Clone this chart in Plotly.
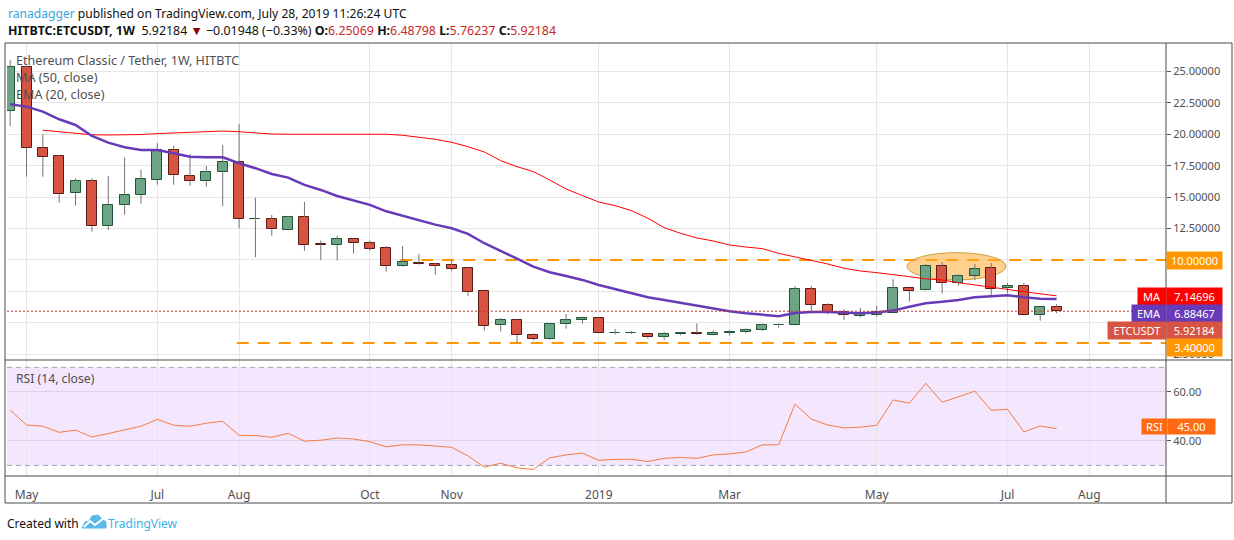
import plotly.graph_objects as go
from plotly.subplots import make_subplots

# weekly bars (monday open), ETC/USDT on HitBTC
dates = [
    "2018-04-30", "2018-05-07", "2018-05-14", "2018-05-21", "2018-05-28",
    "2018-06-04", "2018-06-11", "2018-06-18", "2018-06-25",
    "2018-07-02", "2018-07-09", "2018-07-16", "2018-07-23", "2018-07-30",
    "2018-08-06", "2018-08-13", "2018-08-20", "2018-08-27",
    "2018-09-03", "2018-09-10", "2018-09-17", "2018-09-24",
    "2018-10-01", "2018-10-08", "2018-10-15", "2018-10-22", "2018-10-29",
    "2018-11-05", "2018-11-12", "2018-11-19", "2018-11-26",
    "2018-12-03", "2018-12-10", "2018-12-17", "2018-12-24", "2018-12-31",
    "2019-01-07", "2019-01-14", "2019-01-21", "2019-01-28",
    "2019-02-04", "2019-02-11", "2019-02-18", "2019-02-25",
    "2019-03-04", "2019-03-11", "2019-03-18", "2019-03-25",
    "2019-04-01", "2019-04-08", "2019-04-15", "2019-04-22", "2019-04-29",
    "2019-05-06", "2019-05-13", "2019-05-20", "2019-05-27",
    "2019-06-03", "2019-06-10", "2019-06-17", "2019-06-24",
    "2019-07-01", "2019-07-08", "2019-07-15", "2019-07-22",
]

opens = [21.88, 25.33, 18.89, 18.27, 15.31, 16.28, 12.68, 14.35, 15.15, 16.34,
         18.73, 16.66, 16.26, 16.98, 17.77, 13.22, 13.24, 12.39, 13.40, 11.25,
         11.17, 11.65, 11.33, 10.93, 9.50, 9.74, 9.66, 9.58, 9.34, 7.51,
         4.85, 5.20, 4.01, 3.69, 4.88, 5.23, 5.36, 4.15, 4.17, 4.14,
         3.85, 4.09, 4.19, 4.01, 4.17, 4.25, 4.40, 4.80, 4.80, 7.67,
         6.40, 5.86, 5.55, 5.65, 5.76, 7.75, 7.59, 9.50, 8.15, 8.70,
         9.34, 7.80, 7.91, 5.60, 6.25069]
highs = [25.90, 25.45, 20.02, 18.35, 16.50, 16.50, 16.68, 18.14, 17.16, 19.28,
         19.09, 18.41, 17.48, 19.15, 20.82, 14.96, 13.58, 13.52, 14.61, 11.54,
         11.93, 11.70, 11.54, 11.11, 11.11, 10.48, 9.76, 10.05, 9.42, 7.55,
         5.39, 5.29, 4.17, 4.96, 5.70, 5.49, 5.41, 4.51, 4.35, 4.16,
         4.27, 4.25, 4.96, 4.40, 4.42, 4.56, 4.96, 4.96, 7.93, 7.93,
         6.55, 6.08, 6.18, 6.34, 8.46, 7.80, 9.68, 9.84, 8.86, 9.68,
         9.76, 8.17, 8.17, 6.34, 6.48798]
lows = [20.66, 16.63, 16.63, 14.56, 14.32, 12.25, 12.39, 13.60, 14.48, 15.99,
        15.99, 15.91, 15.83, 14.27, 12.52, 10.21, 11.93, 12.36, 10.72, 10.00,
        9.95, 10.50, 10.74, 9.07, 9.45, 9.62, 8.83, 9.12, 7.14, 4.38,
        4.30, 3.42, 3.58, 3.65, 4.53, 4.93, 4.15, 4.06, 4.10, 3.74,
        3.64, 4.00, 4.03, 3.99, 3.98, 4.15, 4.33, 4.61, 4.78, 5.94,
        5.68, 5.23, 5.44, 5.49, 5.74, 6.68, 7.55, 7.32, 7.96, 8.38,
        7.22, 7.35, 5.58, 5.17, 5.76237]
closes = [25.33, 18.89, 18.22, 15.23, 16.28, 12.68, 14.35, 15.15, 16.42, 18.73,
          16.74, 16.26, 16.98, 17.77, 13.24, 13.28, 12.44, 13.40, 11.17, 11.17,
          11.65, 11.33, 10.90, 9.50, 9.82, 9.66, 9.55, 9.26, 7.48, 4.77,
          5.20, 4.01, 3.69, 4.91, 5.20, 5.39, 4.17, 4.19, 4.20, 3.85,
          4.09, 4.19, 4.09, 4.19, 4.27, 4.40, 4.80, 4.85, 7.67, 6.40,
          5.86, 5.60, 5.70, 5.86, 7.75, 7.56, 9.50, 8.15, 8.70, 9.26,
          7.72, 7.91, 5.60, 6.24, 5.92184]

# indicators
ma50 = [None, None, 20.32, 20.21, 20.08, 19.96, 19.94, 19.94, 19.98, 20.05,
        20.10, 20.15, 20.20, 20.26, 20.20, 20.10, 20.02, 20.00, 20.00, 20.00,
        20.00, 20.00, 20.00, 20.00, 19.92, 19.76, 19.60, 19.36, 19.01, 18.59,
        17.90, 17.42, 17.03, 16.36, 15.65, 15.12, 14.61, 14.32, 13.92, 13.32,
        12.57, 12.12, 11.75, 11.51, 11.19, 11.03, 10.90, 10.53, 10.26, 10.00,
        9.68, 9.34, 9.12, 8.99, 8.86, 8.67, 8.49, 8.41, 8.19, 8.01,
        7.80, 7.61, 7.48, 7.30, 7.14696]
ema20 = [22.39, 22.20, 21.80, 21.19, 20.74, 19.86, 19.33, 18.97, 18.75, 18.75,
         18.49, 18.22, 18.17, 18.17, 17.69, 17.30, 16.84, 16.55, 15.97, 15.57,
         15.09, 14.72, 14.38, 13.87, 13.50, 13.13, 12.81, 12.52, 12.07, 11.33,
         10.74, 10.10, 9.47, 9.02, 8.73, 8.41, 8.01, 7.67, 7.35, 7.03,
         6.82, 6.60, 6.36, 6.13, 5.92, 5.76, 5.65, 5.53, 5.78, 5.86,
         5.86, 5.81, 5.76, 5.81, 5.97, 6.28, 6.55, 6.68, 6.82, 7.03,
         7.14, 7.19, 7.03, 6.92, 6.88467]
rsi14 = [52.6, 46.5, 46.0, 43.5, 44.4, 41.6, 43.0, 44.4, 46.0, 48.8,
         46.4, 46.0, 47.2, 48.0, 42.3, 42.2, 41.5, 43.1, 39.9, 40.3,
         41.2, 40.8, 39.7, 37.6, 38.4, 38.4, 38.0, 37.4, 33.9, 29.3,
         30.9, 29.0, 28.4, 33.1, 34.3, 35.0, 32.1, 32.5, 32.5, 31.6,
         32.9, 33.3, 32.9, 34.3, 34.7, 35.5, 38.4, 38.4, 55.0, 48.9,
         46.5, 45.3, 45.6, 46.4, 56.7, 55.4, 63.5, 55.8, 58.0, 60.3,
         52.5, 52.9, 43.7, 46.1, 45.0]

# drawn levels + the highlighted zone
support, resistance = 3.40, 10.00
support_from, resistance_from = "2018-08-05", "2018-10-14"
zone_x = ["2019-05-19", "2019-06-30 07:00"]
zone_y = [8.41, 10.58]

month_ticks = ["2018-05-07", "2018-07-02", "2018-08-06", "2018-10-01", "2018-11-05",
               "2019-01-07", "2019-03-04", "2019-05-06", "2019-07-01", "2019-08-05"]
month_text = ["May", "Jul", "Aug", "Oct", "Nov", "2019", "Mar", "May", "Jul", "Aug"]
price_ticks = [2.5, 5, 7.5, 10, 12.5, 15, 17.5, 20, 22.5, 25]

UP, DOWN = "#6ba583", "#d75442"
UP_EDGE, DOWN_EDGE = "#225437", "#5b1a13"
WICK = "#737375"
FONT = "Noto Sans"
TXT = "#4f4f4f"

# pixel layout of the tradingview snapshot
W, H = 1234, 540
L, R, T, B = 7, 1166, 43, 476
X_RANGE = ["2018-04-28 15:38", "2019-09-06 20:10"]


def fx(p):
    return (p - L) / (R - L)


def fy(p):
    return (B - p) / (B - T)


fig = make_subplots(rows=2, cols=1, shared_xaxes=True, vertical_spacing=0,
                    row_heights=[317, 116])

# wicks in two pieces so they never run through the body
wx, wy = [], []
for d, o, h, l, c in zip(dates, opens, highs, lows, closes):
    wx += [d, d, None, d, d, None]
    wy += [h, max(o, c), None, min(o, c), l, None]
fig.add_trace(go.Scatter(x=wx, y=wy, mode="lines", line=dict(color=WICK, width=1),
                         hoverinfo="skip"), row=1, col=1)

up = [c >= o for o, c in zip(opens, closes)]
fig.add_trace(go.Bar(
    x=dates,
    y=[abs(c - o) for o, c in zip(opens, closes)],
    base=[min(o, c) for o, c in zip(opens, closes)],
    width=3.7e8,
    marker=dict(color=[UP if u else DOWN for u in up],
                line=dict(color=[UP_EDGE if u else DOWN_EDGE for u in up], width=1)),
), row=1, col=1)

fig.add_trace(go.Scatter(x=dates, y=ma50, mode="lines",
                         line=dict(color="#ff0000", width=1)), row=1, col=1)
fig.add_trace(go.Scatter(x=dates, y=ema20, mode="lines",
                         line=dict(color="#673ab7", width=2.5)), row=1, col=1)
fig.add_trace(go.Scatter(x=dates, y=rsi14, mode="lines",
                         line=dict(color="#f57c40", width=1)), row=2, col=1)

shapes = []
# rsi band and its 30/70 lines
shapes.append(dict(type="rect", xref="paper", yref="y2", x0=0, x1=1, y0=30, y1=70,
                   fillcolor="#f3e6fd", line=dict(width=0), layer="below"))
for lvl in (30, 70):
    shapes.append(dict(type="line", xref="paper", yref="y2", x0=0, x1=1, y0=lvl, y1=lvl,
                       line=dict(color="#a8a3b3", width=1, dash="5px,4px")))
# horizontal levels
shapes.append(dict(type="line", xref="x", yref="y", x0=resistance_from, x1=X_RANGE[1],
                   y0=resistance, y1=resistance,
                   line=dict(color="#ff9800", width=2, dash="12px,9px"), layer="between"))
shapes.append(dict(type="line", xref="x", yref="y", x0=support_from, x1=X_RANGE[1],
                   y0=support, y1=support,
                   line=dict(color="#ff9800", width=2, dash="12px,9px"), layer="between"))
shapes.append(dict(type="line", xref="paper", yref="y", x0=0, x1=1,
                   y0=closes[-1], y1=closes[-1],
                   line=dict(color="#c0392b", width=1, dash="2px,2px")))
shapes.append(dict(type="circle", xref="x", yref="y", x0=zone_x[0], x1=zone_x[1],
                   y0=zone_y[0], y1=zone_y[1], fillcolor="rgba(255,170,50,0.55)",
                   line=dict(color="#c9a23a", width=1), layer="between"))
# frame
shapes.append(dict(type="rect", xref="paper", yref="paper", x0=fx(5), x1=fx(1232),
                   y0=fy(503), y1=fy(43), line=dict(color="#4a4a4a", width=1)))
shapes.append(dict(type="line", xref="paper", yref="paper", x0=fx(1166), x1=fx(1166),
                   y0=fy(503), y1=fy(43), line=dict(color="#4a4a4a", width=1)))
for yy in (360, 476):
    shapes.append(dict(type="line", xref="paper", yref="paper", x0=fx(5), x1=fx(1232),
                       y0=fy(yy), y1=fy(yy), line=dict(color="#4a4a4a", width=1)))
# tradingview logo in the footer
cloud = [(82, 528), (85, 522), (89, 521), (92, 516), (98, 515), (102, 519),
         (106, 522), (106, 528)]
path = "M " + " L ".join(f"{fx(a)} {fy(b)}" for a, b in cloud) + " Z"
shapes.append(dict(type="path", xref="paper", yref="paper", path=path,
                   fillcolor="#5bb9e8", line=dict(color="#5bb9e8", width=1)))
zig = [(84, 527), (90, 521), (95, 525), (104, 518)]
path = "M " + " L ".join(f"{fx(a)} {fy(b)}" for a, b in zig)
shapes.append(dict(type="path", xref="paper", yref="paper", path=path,
                   line=dict(color="white", width=2)))

ann = []


def label(text, x, y, size=12.5, color=TXT, anchor="left"):
    ann.append(dict(text=text, x=fx(x), y=fy(y), xref="paper", yref="paper",
                    xanchor=anchor, yanchor="middle", showarrow=False,
                    font=dict(family=FONT, size=size, color=color)))


def badge(text, x0, x1, y, bg, h=15):
    ann.append(dict(text=text, x=fx(x0), y=fy(y), xref="paper", yref="paper",
                    xanchor="left", yanchor="middle", showarrow=False,
                    width=x1 - x0 - 2, height=h, borderpad=1, bgcolor=bg,
                    align="center", font=dict(family=FONT, size=11, color="white")))


RED = "#c62828"
label('<span style="color:#3ba3dc">ranadagger</span> published on TradingView.com, '
      'July 28, 2019 11:26:24 UTC', 6, 13, size=12.1, color="#111")
label(f'<b>HITBTC:ETCUSDT, 1W</b>  {closes[-1]:.5f} <span style="color:#8b0000">▼</span>'
      f' −0.01948 (−0.33%) <b>O:</b><span style="color:{RED}">{opens[-1]:.5f}</span>'
      f' <b>H:</b><span style="color:{RED}">{highs[-1]:.5f}</span>'
      f' <b>L:</b><span style="color:{RED}">{lows[-1]:.5f}</span>'
      f' <b>C:</b><span style="color:{RED}">{closes[-1]:.5f}</span>', 6, 30,
      size=12.4, color="#111")
label("Ethereum Classic / Tether, 1W, HITBTC", 14, 61, size=12.6)
label("MA (50, close)", 14, 78, size=12.6)
label("EMA (20, close)", 14, 95, size=12.6)
label("RSI (14, close)", 14, 378, size=12.2)
label("Created with", 5, 523, size=12, color="#111")
label("TradingView", 106, 523, size=12, color="#3bb3e4")

badge(f"{resistance:.5f}", 1166, 1221, 260, "#ff9800")
badge("MA", 1137, 1165, 296, "#ff0000")
badge(f"{ma50[-1]:.5f}", 1166, 1221, 296, "#ff0000")
badge("EMA", 1131, 1165, 313, "#673ab7")
badge(f"{ema20[-1]:.5f}", 1166, 1221, 313, "#673ab7")
badge("ETCUSDT", 1107, 1165, 330, DOWN)
badge(f"{closes[-1]:.5f}", 1166, 1221, 330, DOWN)
badge(f"{support:.5f}", 1166, 1221, 347, "#ff9800")
badge("RSI", 1141, 1166, 426, "#ff6a13", h=13)
badge(f"{rsi14[-1]:.2f}", 1167, 1214, 426, "#ff6a13", h=13)

fig.update_layout(
    width=W, height=H,
    margin=dict(l=L, r=W - R, t=T, b=H - B),
    paper_bgcolor="white", plot_bgcolor="white",
    showlegend=False, barmode="overlay", bargap=0,
    font=dict(family=FONT, size=12, color=TXT),
    shapes=shapes, annotations=ann,
)
xcommon = dict(range=X_RANGE, tickvals=month_ticks, showgrid=True, gridcolor="#e6e6e6",
               zeroline=False, showline=False)
fig.update_xaxes(row=1, col=1, showticklabels=False, **xcommon)
fig.update_xaxes(row=2, col=1, ticktext=month_text, ticks="outside", ticklen=4,
                 tickcolor="rgba(0,0,0,0)", ticklabelstandoff=4,
                 tickfont=dict(family=FONT, size=12, color=TXT), **xcommon)
fig.update_yaxes(row=1, col=1, side="right", range=[2.04, 27.26], tickvals=price_ticks,
                 ticktext=["" if v in (5, 7.5) else f"{v:.5f}" for v in price_ticks],
                 ticks="outside", ticklen=4, tickcolor="#555", gridcolor="#e6e6e6",
                 zeroline=False, tickfont=dict(family=FONT, size=11, color=TXT))
fig.update_yaxes(row=2, col=1, side="right", range=[25.7, 73.0], tickvals=[40, 60],
                 ticktext=["40.00", "60.00"], ticks="outside", ticklen=4, tickcolor="#555",
                 gridcolor="#ddd3e8", zeroline=False,
                 tickfont=dict(family=FONT, size=11, color=TXT))

fig.write_html("out.html", config={"displayModeBar": False},
               post_script="document.body.style.margin='0';")
